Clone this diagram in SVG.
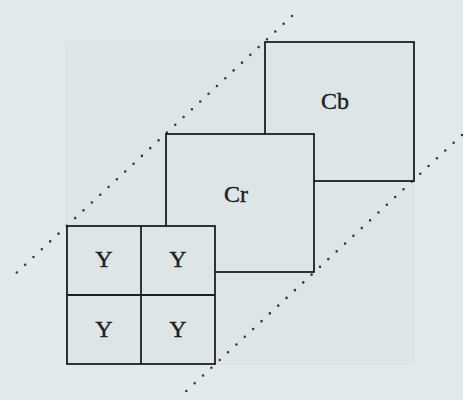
<svg xmlns="http://www.w3.org/2000/svg" width="463" height="400" viewBox="0 0 463 400">
<style>
.box{fill:#dee5e7;stroke:#1e1e1e;stroke-width:1.8}
.ln{fill:none;stroke:#1e1e1e;stroke-width:1.8}
.lbl{font-family:"Liberation Serif","Times New Roman",serif;font-size:24px;fill:#1e1e1e;stroke:#1e1e1e;stroke-width:0.4;text-anchor:middle}
.dot{fill:none;stroke:#3a3a3a;stroke-width:2.6;stroke-linecap:round;stroke-dasharray:0 11.4}
</style>
<rect x="0" y="0" width="463" height="400" fill="#e3eaeb"/>
<rect x="65" y="41" width="350" height="324" fill="#dee5e7"/>
<g id="connectors">
<line class="dot" x1="292" y1="16" x2="12" y2="277"/>
<line class="dot" x1="462" y1="135" x2="182" y2="395"/>
</g>
<g id="Cb">
<rect class="box" x="265" y="42" width="149" height="139"/>
<text class="lbl" x="335" y="109">Cb</text>
</g>
<g id="Cr">
<rect class="box" x="166" y="134" width="148" height="138"/>
<text class="lbl" x="236" y="202">Cr</text>
</g>
<g id="Y">
<rect class="box" x="67" y="226" width="148" height="138"/>
<line class="ln" x1="141" y1="226" x2="141" y2="364"/>
<line class="ln" x1="67" y1="295" x2="215" y2="295"/>
<text class="lbl" x="104" y="267">Y</text>
<text class="lbl" x="178" y="267">Y</text>
<text class="lbl" x="104" y="337">Y</text>
<text class="lbl" x="178" y="337">Y</text>
</g>
</svg>
